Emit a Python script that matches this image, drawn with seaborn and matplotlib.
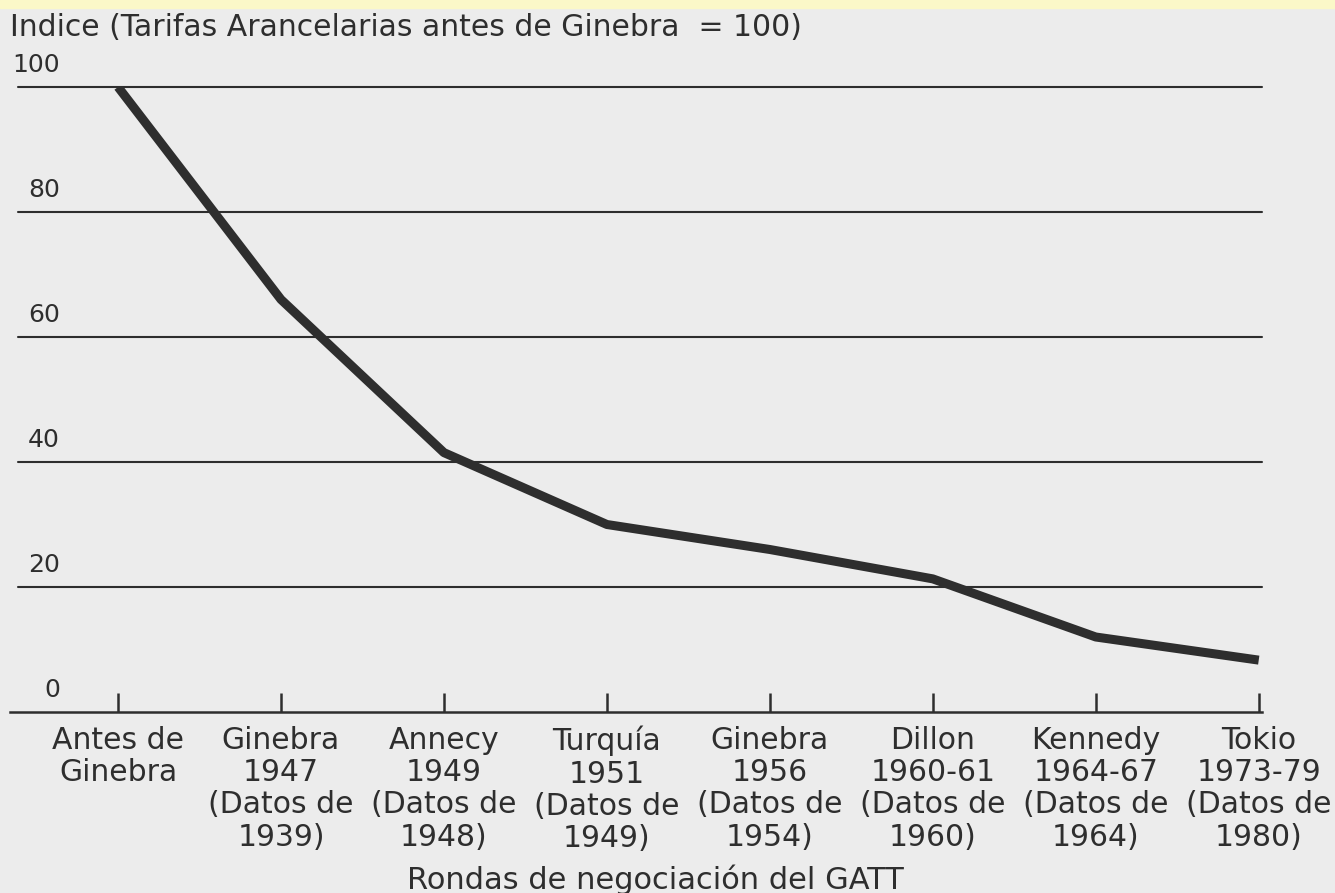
import matplotlib
matplotlib.use("Agg")
import matplotlib.pyplot as plt
import matplotlib.transforms as mtransforms
import pandas as pd
import seaborn as sns

# rounds of GATT negotiations and the tariff index (pre-Geneva = 100)
rounds = [
    "Antes de\nGinebra\n\n",
    "Ginebra\n1947\n(Datos de\n1939)",
    "Annecy\n1949\n(Datos de\n1948)",
    "Turquía\n1951\n(Datos de\n1949)",
    "Ginebra\n1956\n(Datos de\n1954)",
    "Dillon\n1960-61\n(Datos de\n1960)",
    "Kennedy\n1964-67\n(Datos de\n1964)",
    "Tokio\n1973-79\n(Datos de\n1980)",
]
index_values = [100, 66, 41.5, 30, 26, 21.3, 12, 8.3]
y_ticks = [0, 20, 40, 60, 80, 100]
y_ticklabels = ["0", "20", "40", "60", "80", "100"]

title = "Indice (Tarifas Arancelarias antes de Ginebra  = 100)"
xlabel = "Rondas de negociación del GATT"

df = pd.DataFrame({"pos": range(len(rounds)), "indice": index_values})

sns.set_style("white")
plt.rcParams["font.family"] = ["DejaVu Sans"]

paper = "#ececec"
ink = "#2e2e2e"

W, H = 1335, 893
fig = plt.figure(figsize=(W / 100, H / 100), dpi=100, facecolor=paper)
fig.patches.append(plt.Rectangle((0, 1 - 8 / H), 1, 8 / H, transform=fig.transFigure,
                                 color="#fbf8c8", zorder=0))

ax = fig.add_axes([10 / W, 1 - 712 / H, 1252 / W, 625 / H])
ax.set_facecolor(paper)

sns.lineplot(data=df, x="pos", y="indice", ax=ax, color=ink, linewidth=6.5,
             solid_joinstyle="round", solid_capstyle="butt", zorder=3)

ax.set_xlim(-0.663, 7.02)
ax.set_ylim(0, 100)

# horizontal reference lines
for v in y_ticks[1:]:
    ax.plot([8 / 1252 * 7.683 - 0.663, 7.02], [v, v], color=ink, lw=1.5,
            zorder=2, clip_on=False)

# y labels sit above each line, right-aligned
trans = mtransforms.blended_transform_factory(fig.transFigure, ax.transData)
for v, lab in zip(y_ticks, y_ticklabels):
    ax.annotate(lab, xy=(60 / W, v), xycoords=trans, xytext=(0, 7),
                textcoords="offset points", ha="right", va="bottom",
                fontsize=18, color=ink, annotation_clip=False)

for side in ["top", "right", "left"]:
    ax.spines[side].set_visible(False)
ax.spines["bottom"].set_color(ink)
ax.spines["bottom"].set_linewidth(1.8)
ax.spines["bottom"].set_bounds(-0.663, 7.02)

ax.set_yticks([])
ax.set_xticks(range(len(rounds)))
ax.set_xticklabels(rounds, fontsize=21.5, color=ink, linespacing=1.14)
ax.tick_params(axis="x", bottom=True, direction="in", length=14, width=1.8,
               color=ink, pad=10)
ax.set_xlabel("")
ax.set_ylabel("")

fig.text(10 / W, 1 - 28 / H, title, fontsize=21.5, color=ink, va="center", ha="left")
fig.text(655 / W, 1 - 880 / H, xlabel, fontsize=22, color=ink, va="center", ha="center")

fig.savefig("out.png", dpi=100, facecolor=paper)
